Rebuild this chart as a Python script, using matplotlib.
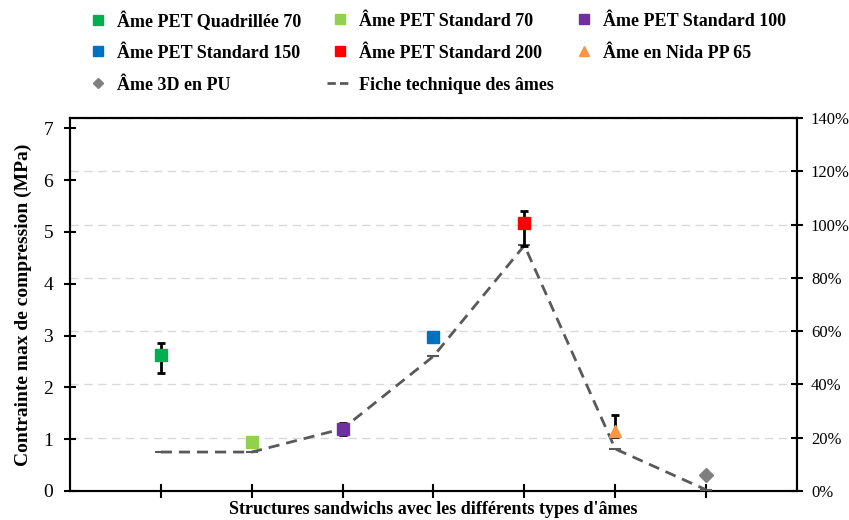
import numpy as np
import matplotlib.pyplot as plt
from matplotlib.lines import Line2D
from matplotlib.ticker import PercentFormatter

plt.rcParams['font.family'] = ['Liberation Serif', 'DejaVu Serif']

names = ["Âme PET Quadrillée 70", "Âme PET Standard 70", "Âme PET Standard 100",
         "Âme PET Standard 150", "Âme PET Standard 200", "Âme en Nida PP 65",
         "Âme 3D en PU"]
values = [2.63, 0.95, 1.20, 2.97, 5.18, 1.16, 0.30]
err_low = [0.36, 0.0, 0.13, 0.08, 0.45, 0.12, 0.0]
err_high = [0.23, 0.0, 0.12, 0.05, 0.23, 0.30, 0.0]
colors = ["#00B050", "#92D050", "#7030A0", "#0070C0", "#FF0000", "#F79646", "#7F7F7F"]
markers = ["s", "s", "s", "s", "s", "^", "D"]
fiche = [0.75, 0.75, 1.20, 2.60, 4.74, 0.81, 0.02]

x = np.arange(1, len(names) + 1)

fig = plt.figure(figsize=(8.49, 5.20), dpi=100)
ax = fig.add_axes([0.0824, 0.056, 0.8564, 0.717])
ax2 = ax.twinx()

# grid belongs to the right axis
ax2.set_ylim(0, 1.4)
ax2.set_yticks(np.arange(0, 1.41, 0.2))
ax2.yaxis.set_major_formatter(PercentFormatter(1.0, decimals=0))
ax2.grid(axis='y', color='#d9d9d9', linestyle=(0, (6, 4)), linewidth=1)
ax2.tick_params(axis='y', direction='inout', length=8, width=1.5, labelsize=12, pad=6)

ax.plot(x, fiche, color='#595959', linestyle=(0, (4, 2.5)), linewidth=2,
        marker='_', markersize=8, markeredgewidth=1.5, zorder=3)

for i in range(len(names)):
    if err_low[i] > 0 or err_high[i] > 0:
        ax.errorbar(x[i], values[i], yerr=[[err_low[i]], [err_high[i]]], fmt='none',
                    ecolor='black', elinewidth=2, capsize=3, capthick=2, zorder=4)
    ms = 9 if markers[i] != 'D' else 7
    ax.plot(x[i], values[i], marker=markers[i], color=colors[i], markersize=ms,
            linestyle='none', zorder=5)

ax.set_xlim(0, 8)
ax.set_ylim(0, 7.2)
ax.set_yticks(range(0, 8))
ax.set_xticks(x)
ax.set_xticklabels([])
ax.tick_params(axis='y', direction='inout', length=8, width=1.5, labelsize=14, pad=8)
ax.tick_params(axis='x', direction='inout', length=10, width=1.5)
for s in ['left', 'right', 'bottom', 'top']:
    ax.spines[s].set_linewidth(1.5)
    ax2.spines[s].set_linewidth(1.5)
ax.set_zorder(ax2.get_zorder() + 1)
ax.patch.set_visible(False)

ax.set_ylabel("Contrainte max de compression (MPa)", fontsize=14, fontweight='bold', labelpad=8)
fig.text(0.51, 0.003, "Structures sandwichs avec les différents types d'âmes", fontsize=13,
         fontweight='bold', ha='center', va='bottom')

handles = [Line2D([], [], marker=markers[i], color=colors[i], linestyle='none',
                  markersize=7 if markers[i] != 'D' else 5) for i in range(len(names))]
handles.append(Line2D([], [], color='#595959', linestyle=(0, (3, 1.5)), linewidth=2))
labels = names + ["Fiche technique des âmes"]

# legend laid out like the source: 3 equal-width columns, filled row by row
col_x = [85, 327, 571]
row_y = [21, 53, 85]
for k in range(len(labels)):
    cx = col_x[k % 3]
    cy = row_y[k // 3]
    fig.legend([handles[k]], [labels[k]], loc='center left',
               bbox_to_anchor=(cx / 849, 1 - cy / 520), frameon=False,
               prop={'weight': 'bold', 'size': 13}, handlelength=1.4, handletextpad=0.35,
               borderpad=0, borderaxespad=0)

fig.savefig("out.png", dpi=100)
